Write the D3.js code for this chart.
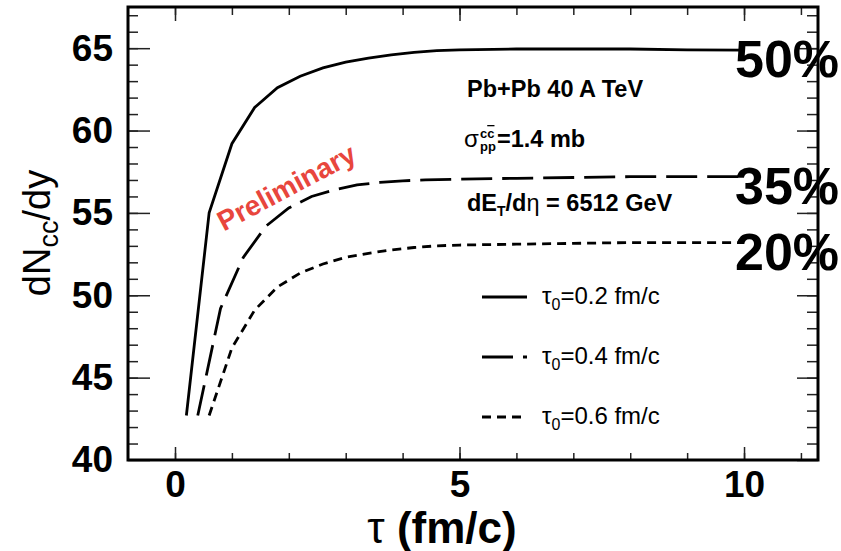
<!DOCTYPE html>
<meta charset="utf-8">
<style>
body { margin: 0; background: #fff; font-family: 'Liberation Sans', Arial, sans-serif; }
.frame { fill: none; stroke: #000; stroke-width: 3; }
.curve { fill: none; stroke: #000; stroke-width: 2.8; }
.tick line { stroke: #222; stroke-width: 1.5; }
.axis .domain { display: none; }
.info { font-size: 23.5px; font-weight: bold; }
.leg { font-size: 24px; }
.pct { font-size: 52px; font-weight: bold; }
</style>
<body>
<svg width="841" height="551"></svg>
<script src="https://d3js.org/d3.v7.min.js"></script>
<script>

// tau (fm/c) sample points and dN_cc/dy for each tau0
var tau02 = [0.2,0.6,1.0,1.4,1.8,2.2,2.6,3.0,3.4,3.8,4.2,4.6,5,6,7,8,9,10];
var val02 = [42.7,55.0,59.2,61.4,62.6,63.3,63.8,64.15,64.4,64.6,64.75,64.85,64.9,64.95,64.95,64.95,64.9,64.88];

var tau04 = [0.4,0.8,1.2,1.6,2.0,2.4,2.8,3.2,3.6,4.0,4.4,5,6,7,8,9,10];
var val04 = [42.7,49.2,52.3,54.2,55.3,56.0,56.4,56.7,56.85,56.95,57.0,57.05,57.1,57.15,57.2,57.2,57.2];

var tau06 = [0.6,1.0,1.4,1.8,2.2,2.6,3.0,3.4,3.8,4.2,4.6,5,6,7,8,9,10];
var val06 = [42.7,46.8,49.1,50.5,51.35,51.9,52.3,52.55,52.75,52.9,53.0,53.05,53.1,53.15,53.2,53.2,53.2];

var legendLabels = ["0.2 fm/c", "0.4 fm/c", "0.6 fm/c"];
var pctLabels = ["50%", "35%", "20%"];
var xTicks = [0, 5, 10];
var yTicks = [40, 45, 50, 55, 60, 65];

var series = [
  {tau: tau02, val: val02, dash: null, label: legendLabels[0], pct: pctLabels[0]},
  {tau: tau04, val: val04, dash: "31,10", label: legendLabels[1], pct: pctLabels[1]},
  {tau: tau06, val: val06, dash: "9,6", label: legendLabels[2], pct: pctLabels[2]}
];

var L = 128, R = 818, T = 7, B = 460;

var x = d3.scaleLinear().domain([-0.826, 11.3]).range([L, R]);
var y = d3.scaleLinear().domain([40, 67.5]).range([B, T]);

var svg = d3.select("svg");

var minorX = d3.range(0, 12, 1), minorY = d3.range(41, 68, 1);

function styleLabels(g) {
  g.selectAll("text")
    .attr("font-size", 37)
    .attr("font-weight", "bold")
    .attr("font-family", "'Liberation Sans', Arial, sans-serif")
    .attr("fill", "#000");
}

// left axis
svg.append("g").attr("class", "axis").attr("transform", "translate(" + L + ",0)")
  .call(d3.axisLeft(y).tickValues(minorY).tickSize(-10).tickFormat(""));
svg.append("g").attr("class", "axis").attr("transform", "translate(" + L + ",0)")
  .call(d3.axisLeft(y).tickValues(yTicks).tickSize(-22).tickPadding(15).tickFormat(d3.format("d")))
  .call(styleLabels);

// right axis
svg.append("g").attr("class", "axis").attr("transform", "translate(" + R + ",0)")
  .call(d3.axisRight(y).tickValues(minorY).tickSize(-11).tickFormat(""));
svg.append("g").attr("class", "axis").attr("transform", "translate(" + R + ",0)")
  .call(d3.axisRight(y).tickValues(yTicks).tickSize(-21).tickFormat(""));

// bottom axis
svg.append("g").attr("class", "axis").attr("transform", "translate(0," + B + ")")
  .call(d3.axisBottom(x).tickValues(minorX).tickSize(-7).tickFormat(""));
svg.append("g").attr("class", "axis").attr("transform", "translate(0," + B + ")")
  .call(d3.axisBottom(x).tickValues(xTicks).tickSize(-13).tickPadding(11).tickFormat(d3.format("d")))
  .call(styleLabels);

// top axis
svg.append("g").attr("class", "axis").attr("transform", "translate(0," + T + ")")
  .call(d3.axisTop(x).tickValues(minorX).tickSize(-8).tickFormat(""));
svg.append("g").attr("class", "axis").attr("transform", "translate(0," + T + ")")
  .call(d3.axisTop(x).tickValues(xTicks).tickSize(-14).tickFormat(""));

svg.append("rect").attr("class", "frame")
  .attr("x", L).attr("y", T).attr("width", R - L).attr("height", B - T);

// curves
var line = d3.line()
  .x(function(d) { return x(d[0]); })
  .y(function(d) { return y(d[1]); });

series.forEach(function(s) {
  svg.append("path")
    .attr("class", "curve")
    .attr("d", line(d3.zip(s.tau, s.val)))
    .attr("stroke-dasharray", s.dash);
});

// percent labels at the end of each curve
series.forEach(function(s) {
  svg.append("text")
    .attr("class", "pct")
    .attr("x", 735)
    .attr("y", y(s.val[s.val.length - 1]) + 27)
    .text(s.pct);
});

// info text
svg.append("text").attr("class", "info").attr("x", 467).attr("y", 97).text("Pb+Pb 40 A TeV");

var sig = svg.append("g").attr("class", "info");
sig.append("text").attr("x", 464).attr("y", 147).attr("font-weight", "normal").attr("font-size", 24).text("σ");
sig.append("text").attr("x", 480).attr("y", 138).attr("font-size", 13)
  .call(function(t) {
    t.append("tspan").text("c");
    t.append("tspan").style("text-decoration", "overline").text("c");
  });
sig.append("text").attr("x", 480).attr("y", 151).attr("font-size", 13).text("pp");
sig.append("text").attr("x", 497).attr("y", 147).text("=1.4 mb");

var de = svg.append("text").attr("class", "info").attr("x", 467).attr("y", 211);
de.append("tspan").text("dE");
de.append("tspan").attr("font-size", 14).attr("dy", 5).text("T");
de.append("tspan").attr("dy", -5).text("/d");
de.append("tspan").attr("font-weight", "normal").text("η");
de.append("tspan").text(" = 6512 GeV");

// Preliminary
svg.append("text")
  .attr("transform", "translate(291,196) rotate(-28)")
  .attr("text-anchor", "middle")
  .attr("font-size", 28)
  .attr("font-weight", "bold")
  .attr("fill", "#e8463d")
  .text("Preliminary");

// legend
var legY = [297, 357, 417];
series.forEach(function(s, i) {
  svg.append("line")
    .attr("class", "curve")
    .attr("x1", 482).attr("x2", 527)
    .attr("y1", legY[i]).attr("y2", legY[i])
    .attr("stroke-dasharray", s.dash);
  var t = svg.append("text").attr("class", "leg").attr("x", 542).attr("y", legY[i] + 7);
  t.append("tspan").text("τ");
  t.append("tspan").attr("font-size", 16).attr("dy", 6).text("0");
  t.append("tspan").attr("dy", -6).text("=" + s.label);
});

// axis titles
var xt = svg.append("text")
  .attr("x", 442).attr("y", 543)
  .attr("text-anchor", "middle")
  .attr("font-size", 44)
  .attr("font-weight", "bold");
xt.append("tspan").attr("font-weight", "normal").text("τ");
xt.append("tspan").text(" (fm/c)");

var yt = svg.append("text")
  .attr("transform", "translate(50,233) rotate(-90)")
  .attr("text-anchor", "middle")
  .attr("font-size", 38);
yt.append("tspan").text("dN");
yt.append("tspan").attr("font-size", 27).attr("dy", 8).text("cc");
yt.append("tspan").attr("dy", -8).text("/dy");

</script>
</body>
